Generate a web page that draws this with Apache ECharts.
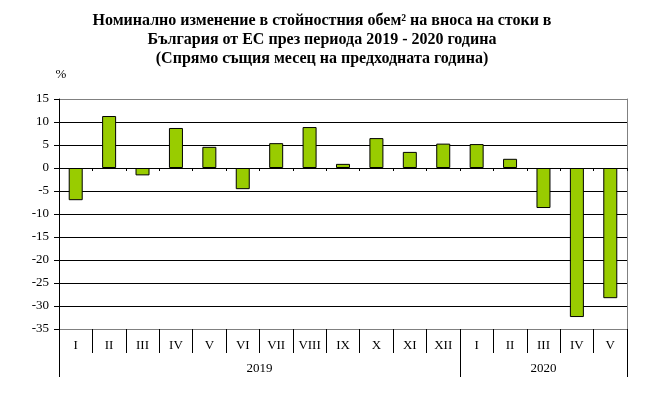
<!DOCTYPE html>
<html><head><meta charset="utf-8">
<script src="https://cdn.jsdelivr.net/npm/echarts@6/dist/echarts.min.js"></script>
<style>html,body{margin:0;padding:0;background:#fff}#c{width:658px;height:395px}</style>
</head><body><div id="c"></div>
<script>
const months = ['I','II','III','IV','V','VI','VII','VIII','IX','X','XI','XII','I','II','III','IV','V'];
const values = [-7.0, 11.3, -1.6, 8.7, 4.6, -4.6, 5.4, 8.9, 0.9, 6.5, 3.5, 5.3, 5.2, 2.0, -8.7, -32.4, -28.3];
const years = ['2019', '2020'];
const yearStarts = [0, 12];
const yearCounts = [12, 5];
const yTicks = [-35, 15, 5];
const titleLines = ['Номинално изменение в стойностния обем² на вноса на стоки в', 'България от ЕС през периода 2019 - 2020 година', '(Спрямо същия месец на предходната година)'];
const unitLabel = '%';

const font = 'Liberation Serif, Times New Roman, serif';
const yearBounds = yearStarts.concat([yearStarts[yearStarts.length-1] + yearCounts[yearCounts.length-1]]);
const yearCenters = yearStarts.map((s,i)=>s + yearCounts[i]/2);
const nLines = (yTicks[1]-yTicks[0])/yTicks[2] + 1;
const splitColors = [];
for (let i=0;i<nLines;i++) splitColors.push(i===0||i===nLines-1 ? '#808080' : '#000');

const chart = echarts.init(document.getElementById('c'), null, {renderer:'canvas'});
chart.setOption({
  animation:false,
  backgroundColor:'#fff',
  title:{
    text: titleLines.join('\n'), left: 317, top: 6, textAlign:'center',
    textStyle:{fontFamily:font, fontWeight:'bold', fontSize:16, color:'#000', lineHeight:19}
  },
  grid:{left:59, right:31, top:99, bottom:66, containLabel:false},
  xAxis:[
    {type:'category', data:months, position:'bottom', boundaryGap:true,
     axisLine:{show:false, onZero:false},
     axisTick:{show:true, length:24, inside:false, lineStyle:{color:'#000'}},
     axisLabel:{fontFamily:font, fontSize:13, color:'#000', margin:10, interval:0},
     splitLine:{show:false}},
    {type:'category', data:months, boundaryGap:true, position:'bottom',
     axisLine:{show:true, onZero:true, lineStyle:{color:'#000'}},
     axisTick:{show:true, length:3, inside:false, lineStyle:{color:'#000'}},
     axisLabel:{show:false}, splitLine:{show:false}},
    {type:'value', min:0, max:months.length, position:'bottom',
     axisLine:{show:false, onZero:false},
     axisTick:{show:true, length:48, customValues:yearBounds, lineStyle:{color:'#000'}},
     axisLabel:{customValues:yearCenters, fontFamily:font, fontSize:13, color:'#000', margin:33,
       formatter:(v)=>{const i=yearCenters.indexOf(v); return i>=0?years[i]:'';}},
     splitLine:{show:false}}
  ],
  yAxis:[
    {type:'value', min:yTicks[0], max:yTicks[1], interval:yTicks[2],
     name: unitLabel, nameLocation:'end', nameGap:18,
     nameTextStyle:{fontFamily:font, fontSize:13, color:'#000', align:'center', padding:[0,0,0,4]},
     axisLine:{show:true, onZero:false, lineStyle:{color:'#000'}},
     axisTick:{show:true, length:5, lineStyle:{color:'#000'}},
     axisLabel:{fontFamily:font, fontSize:13, color:'#000', margin:10},
     splitLine:{show:true, lineStyle:{color:splitColors, width:1}}},
    {type:'value', min:yTicks[0], max:yTicks[1], interval:yTicks[2], position:'right',
     axisLine:{show:true, onZero:false, lineStyle:{color:'#808080'}},
     axisTick:{show:false}, axisLabel:{show:false}, splitLine:{show:false}}
  ],
  series:[{
    type:'bar', xAxisIndex:0, yAxisIndex:0, data:values, barWidth:14,
    itemStyle:{color:'#99cc00', borderColor:'#000', borderWidth:1}
  }]
});
</script></body></html>
